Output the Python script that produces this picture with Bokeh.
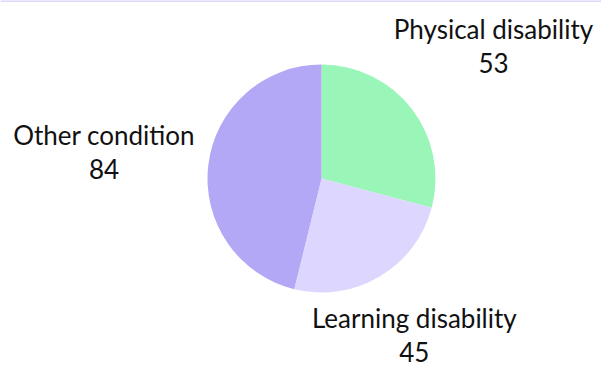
import math
from bokeh.plotting import figure
from bokeh.models import ColumnDataSource, Range1d, Span
from bokeh.core.properties import value
from bokeh.embed import file_html
from bokeh.resources import INLINE

# data
categories = ["Physical disability", "Learning disability", "Other condition"]
counts = [53, 45, 84]
colors = ["#99F5B8", "#DDD6FE", "#B3A8F5"]

W, H = 601, 368
CX, CY, R = 321, 190, 114
label_radius = [217, 182, 219]
FONT = "Lato"

total = sum(counts)
starts, ends, mids = [], [], []
acc = 0.0
for c in counts:
    a0 = math.pi / 2 - 2 * math.pi * acc / total
    acc += c
    a1 = math.pi / 2 - 2 * math.pi * acc / total
    starts.append(a0)
    ends.append(a1)
    mids.append((a0 + a1) / 2)

src = ColumnDataSource(dict(cat=categories, val=counts, color=colors,
                            start=starts, end=ends,
                            x=[CX] * 3, y=[CY] * 3))

p = figure(width=W, height=H, output_backend="svg", toolbar_location=None,
           x_range=Range1d(0, W), y_range=Range1d(0, H), min_border=0)
p.axis.visible = False
p.grid.visible = False
p.outline_line_color = None
p.background_fill_color = "white"

p.wedge(x="x", y="y", radius=R, start_angle="start", end_angle="end",
        direction="clock", fill_color="color", line_color=None, source=src)

lx = [CX + r * math.cos(m) for r, m in zip(label_radius, mids)]
ly = [CY + r * math.sin(m) for r, m in zip(label_radius, mids)]
lab = ColumnDataSource(dict(x=lx, yn=[y + 17 for y in ly], yv=[y - 17 for y in ly],
                            name=categories, v=[str(c) for c in counts]))
p.text(x="x", y="yn", text="name", source=lab, text_align="center",
       text_baseline="alphabetic", text_font=value(FONT), text_font_size="26px",
       text_color="#111111")
p.text(x="x", y="yv", text="v", source=lab, text_align="center",
       text_baseline="alphabetic", text_font=value(FONT), text_font_size="26px",
       text_color="#111111")

p.add_layout(Span(location=H - 0.5, dimension="width", line_color="#DDD6FE", line_width=2))

open("out.html", "w").write(file_html(p, INLINE))
